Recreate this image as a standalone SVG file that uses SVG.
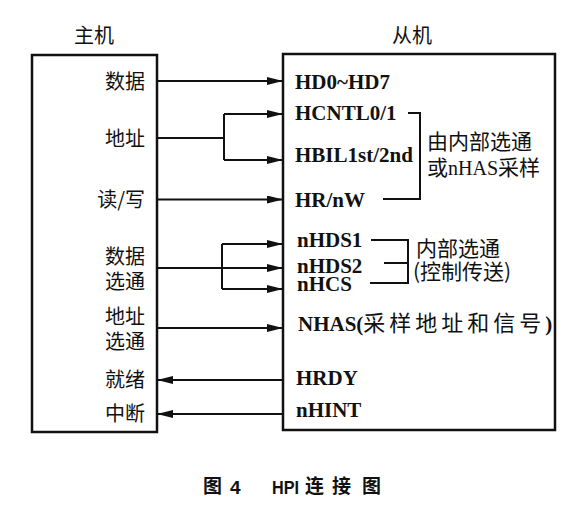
<svg xmlns="http://www.w3.org/2000/svg" width="588" height="512" viewBox="0 0 588 512">
<style>
.box{fill:#fff;stroke:#111;stroke-width:2.5}
.ln{fill:none;stroke:#111;stroke-width:2}
.arr{fill:none;stroke:#111;stroke-width:2;marker-end:url(#ah)}
.cjk{font-family:"Noto Sans CJK SC","Noto Sans",sans-serif;font-size:20px;fill:#111}
.lat{font-family:"Liberation Serif","Times New Roman",serif;font-weight:bold;font-size:21px;fill:#111}
.note{font-family:"Noto Sans CJK SC",sans-serif;font-size:21px;fill:#111}
.cap{font-family:"Noto Sans CJK SC","Liberation Sans",sans-serif;font-weight:bold;font-size:19px;fill:#111}
.capl{font-family:"Liberation Sans",Arial,sans-serif;font-weight:bold;font-size:19px;fill:#111}
</style>
<defs>
<marker id="ah" markerUnits="userSpaceOnUse" markerWidth="16" markerHeight="8" refX="16" refY="4" orient="auto">
<path d="M0,0 L16,4 L0,8 z" fill="#111"/>
</marker>
</defs>
<rect width="588" height="512" fill="#fff"/>

<g id="host">
<rect class="box" x="32" y="55" width="125" height="377"/>
<text class="cjk" x="94" y="42.5" text-anchor="middle">主机</text>
<g text-anchor="end">
<text class="cjk" x="145" y="89">数据</text>
<text class="cjk" x="145" y="146">地址</text>
<text class="cjk" x="145" y="206.5">读/写</text>
<text class="cjk" x="145" y="264">数据</text>
<text class="cjk" x="145" y="289">选通</text>
<text class="cjk" x="145" y="324">地址</text>
<text class="cjk" x="145" y="349">选通</text>
<text class="cjk" x="145" y="386.5">就绪</text>
<text class="cjk" x="145" y="421">中断</text>
</g>
</g>

<g id="slave">
<rect class="box" x="283" y="54" width="272" height="376"/>
<text class="cjk" x="412" y="42.5" text-anchor="middle">从机</text>
<text class="lat" x="295" y="89">HD0~HD7</text>
<text class="lat" x="295" y="120">HCNTL0/1</text>
<text class="lat" x="295" y="162">HBIL1st/2nd</text>
<text class="lat" x="295" y="207">HR/nW</text>
<text class="lat" x="297" y="247" font-size="20">nHDS1</text>
<text class="lat" x="297" y="273" font-size="20">nHDS2</text>
<text class="lat" x="297" y="290.5" font-size="20">nHCS</text>
<text class="lat" x="298" y="331" font-size="21.5">NHAS(<tspan font-family="Noto Sans CJK SC, sans-serif" font-weight="normal" font-size="22" letter-spacing="4">采样地址和信号</tspan>)</text>
<text class="lat" x="296" y="385">HRDY</text>
<text class="lat" x="296" y="417">nHINT</text>
</g>

<g id="bracket-addr">
<path class="ln" d="M408,113 H420 V199 H383"/>
<text class="note" x="427" y="148.5">由内部选通</text>
<text class="note" x="427" y="175">或<tspan font-family="Liberation Serif, serif" font-size="20">nHAS</tspan>采样</text>
</g>

<g id="bracket-strobe">
<path class="ln" d="M371,240 H408 V283 H370 M384,263 H408"/>
<text class="note" x="416" y="256">内部选通</text>
<text class="note" x="413" y="279">(控制传送)</text>
</g>

<g id="connectors">
<path class="arr" d="M157,81 H283"/>
<path class="ln" d="M157,138 H224 M224,114 V160"/>
<path class="arr" d="M224,114 H283"/>
<path class="arr" d="M224,160 H283"/>
<path class="arr" d="M157,199.5 H283"/>
<path class="ln" d="M157,268 H222 M222,244 V289"/>
<path class="arr" d="M222,268 H283"/>
<path class="arr" d="M222,244 H283"/>
<path class="arr" d="M222,289 H283"/>
<path class="arr" d="M157,328 H283"/>
<path class="arr" d="M283,380 H157"/>
<path class="arr" d="M283,414 H157"/>
</g>

<g id="caption">
<text class="cap" x="203" y="493">图</text>
<text class="capl" x="230" y="494">4</text>
<text class="capl" x="272" y="494" textLength="27" lengthAdjust="spacingAndGlyphs">HPI</text>
<text class="cap" x="305" y="493">连</text>
<text class="cap" x="332" y="493">接</text>
<text class="cap" x="362" y="493">图</text>
</g>
</svg>
